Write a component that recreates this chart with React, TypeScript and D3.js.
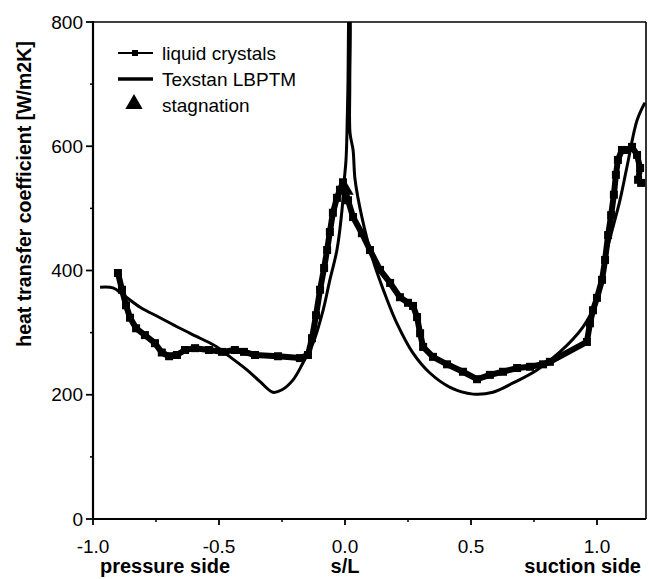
import React from "react";
import * as d3 from "d3";

const texS = [-0.972, -0.921, -0.881, -0.813, -0.734, -0.655, -0.575, -0.508, -0.456, -0.389, -0.337, -0.286, -0.25, -0.206, -0.167, -0.127, -0.087, -0.06, -0.032, -0.012, -0.004, 0.004, 0.008, 0.012, 0.014, 0.016, 0.018, 0.019, 0.02, 0.032, 0.04, 0.067, 0.111, 0.167, 0.206, 0.27, 0.337, 0.417, 0.508, 0.587, 0.667, 0.762, 0.853, 0.944, 1.0, 1.04, 1.091, 1.119, 1.159, 1.19];
const texH = [373, 372, 361, 341, 324, 307, 291, 277, 261, 240, 221, 204, 208, 224, 251, 283, 336, 385, 433, 497, 541, 578, 626, 707, 800, 830, 830, 700, 621, 594, 546, 486, 417, 353, 315, 267, 235, 212, 201, 204, 219, 240, 269, 309, 352, 433, 513, 567, 642, 670];

const lcS = [-0.901, -0.885, -0.869, -0.853, -0.829, -0.794, -0.754, -0.727, -0.698, -0.667, -0.635, -0.595, -0.540, -0.488, -0.437, -0.401, -0.357, -0.266, -0.179, -0.147, -0.131, -0.115, -0.099, -0.083, -0.071, -0.06, -0.048, -0.032, -0.02, -0.008, 0.012, 0.032, 0.067, 0.099, 0.139, 0.179, 0.218, 0.25, 0.27, 0.286, 0.298, 0.31, 0.349, 0.405, 0.468, 0.524, 0.575, 0.627, 0.683, 0.734, 0.786, 0.813, 0.96, 0.972, 0.984, 1.0, 1.02, 1.032, 1.044, 1.056, 1.067, 1.075, 1.083, 1.099, 1.119, 1.139, 1.159, 1.171, 1.163, 1.175];
const lcH = [396, 369, 344, 324, 307, 296, 283, 268, 262, 264, 272, 275, 272, 269, 272, 269, 264, 262, 259, 264, 291, 328, 369, 404, 433, 462, 493, 517, 530, 542, 513, 486, 460, 433, 401, 380, 357, 348, 343, 325, 299, 277, 261, 249, 237, 225, 232, 237, 243, 245, 249, 253, 285, 315, 336, 356, 385, 417, 457, 489, 522, 554, 578, 594, 594, 599, 586, 565, 546, 541];

const stagS = [0.0];
const stagH = [530];

const xMajor = [-1.0, -0.5, 0.0, 0.5, 1.0];
const xMinor = [-0.75, -0.25, 0.25, 0.75];
const yMajor = [0, 200, 400, 600, 800];
const yMinor = [100, 300, 500, 700];

const legendLabels = ["liquid crystals", "Texstan LBPTM", "stagnation"];

const W = 649;
const H = 579;
const L = 93;
const R = 646;
const T = 22;
const B = 519;
const FONT = "'Liberation Sans', Arial, Helvetica, sans-serif";

export default function App() {
  const x = d3.scaleLinear().domain([-1, 1.2]).range([L, L + 2.2 * 252]);
  const y = d3.scaleLinear().domain([0, 800]).range([B, T]);

  const tex = texS.map((s, i) => [s, texH[i]] as [number, number]);
  const lc = lcS.map((s, i) => [s, lcH[i]] as [number, number]);

  const texLine = d3
    .line<[number, number]>()
    .x((d) => x(d[0]))
    .y((d) => y(d[1]))
    .curve(d3.curveCatmullRom.alpha(0.5));
  const lcLine = d3
    .line<[number, number]>()
    .x((d) => x(d[0]))
    .y((d) => y(d[1]));

  const tri = d3.symbol().type(d3.symbolTriangle).size(130)();

  return (
    <svg
      width={W}
      height={H}
      style={{ position: "absolute", left: 0, top: 0, background: "#fff" }}
      fontFamily={FONT}
    >
      <rect x={0} y={0} width={W} height={H} fill="#fff" />
      <defs>
        <clipPath id="plot">
          <rect x={L} y={T} width={R - L} height={B - T} />
        </clipPath>
      </defs>

      {/* frame */}
      <line x1={L} x2={R} y1={T} y2={T} stroke="#000" strokeWidth={1.6} />
      <line x1={R} x2={R} y1={T} y2={B} stroke="#000" strokeWidth={1.6} />
      <line x1={L} x2={L} y1={T - 1} y2={B + 1} stroke="#000" strokeWidth={2.2} />
      <line x1={L - 1} x2={R} y1={B} y2={B} stroke="#000" strokeWidth={2.2} />

      {/* x ticks */}
      {xMajor.map((v) => (
        <g key={"xm" + v}>
          <line x1={x(v)} x2={x(v)} y1={B} y2={B + 6} stroke="#000" strokeWidth={1.8} />
          <text x={x(v)} y={B + 34} textAnchor="middle" fontSize={19}>
            {v.toFixed(1)}
          </text>
        </g>
      ))}
      {xMinor.map((v) => (
        <line key={"xn" + v} x1={x(v)} x2={x(v)} y1={B} y2={B + 3} stroke="#000" strokeWidth={1.5} />
      ))}

      {/* y ticks */}
      {yMajor.map((v) => (
        <g key={"ym" + v}>
          <line x1={L - 7} x2={L} y1={y(v)} y2={y(v)} stroke="#000" strokeWidth={1.8} />
          <text x={L - 10} y={y(v)} dy="0.35em" textAnchor="end" fontSize={19}>
            {v}
          </text>
        </g>
      ))}
      {yMinor.map((v) => (
        <line key={"yn" + v} x1={L - 3} x2={L} y1={y(v)} y2={y(v)} stroke="#000" strokeWidth={1.5} />
      ))}

      {/* axis titles */}
      <text x={100} y={573} fontSize={20} fontWeight="bold">
        pressure side
      </text>
      <text x={x(0)} y={573} fontSize={20} fontWeight="bold" textAnchor="middle">
        s/L
      </text>
      <text x={641} y={573} fontSize={20} fontWeight="bold" textAnchor="end">
        suction side
      </text>
      <text
        transform={`translate(31,${(28 + 360) / 2}) rotate(-90)`}
        textAnchor="middle"
        fontSize={19.5}
        fontWeight="bold"
      >
        heat transfer coefficient [W/m2K]
      </text>

      {/* series */}
      <g clipPath="url(#plot)">
        <path d={texLine(tex) || ""} fill="none" stroke="#000" strokeWidth={3} />
        <path d={lcLine(lc) || ""} fill="none" stroke="#000" strokeWidth={6} strokeLinejoin="round" />
        {lc.map((d, i) => (
          <rect key={"sq" + i} x={x(d[0]) - 4} y={y(d[1]) - 4} width={8} height={8} fill="#000" />
        ))}
        {stagS.map((s, i) => (
          <path key={"st" + i} d={tri || ""} transform={`translate(${x(s)},${y(stagH[i])})`} fill="#000" />
        ))}
      </g>

      {/* legend */}
      <g>
        <line x1={118} x2={153} y1={53} y2={53} stroke="#000" strokeWidth={2} />
        <rect x={132} y={50} width={6} height={6} fill="#000" />
        <text x={162} y={53} dy="0.35em" fontSize={19}>
          {legendLabels[0]}
        </text>
        <line x1={118} x2={153} y1={79} y2={79} stroke="#000" strokeWidth={3.5} />
        <text x={162} y={79} dy="0.35em" fontSize={19}>
          {legendLabels[1]}
        </text>
        <path d={tri || ""} transform="translate(134,104)" fill="#000" />
        <text x={162} y={105} dy="0.35em" fontSize={19}>
          {legendLabels[2]}
        </text>
      </g>
    </svg>
  );
}
